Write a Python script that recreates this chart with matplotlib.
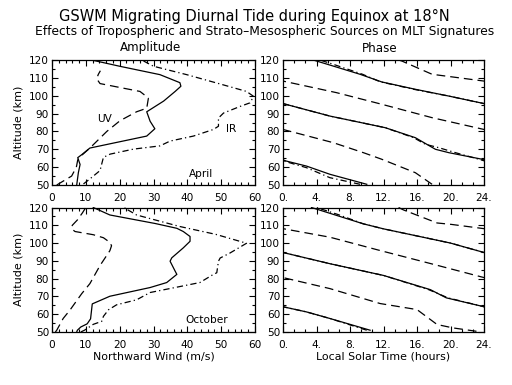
import numpy as np
import matplotlib
matplotlib.use("Agg")
import matplotlib.pyplot as plt
from matplotlib.ticker import MultipleLocator, FixedLocator

# ---------------- Amplitude data (m/s) ----------------
# April
alt_apr_tot = [50, 57, 61.5, 65.3, 67, 70.7, 77.4, 81.5, 85.7, 91, 97, 102.4, 105.3, 107.3, 111.8, 116.5, 120]
amp_apr_tot = [7.3, 7.8, 8.3, 7.6, 8.8, 11.2, 28, 30.4, 29, 28, 33, 36.4, 38.1, 37.8, 31.9, 20, 11.7]

alt_apr_uv = [50, 55, 60, 64, 67, 70.7, 80, 86, 91, 93, 98.7, 102.4, 105, 106.8, 109.5, 112, 114]
amp_apr_uv = [1.4, 5.8, 7.2, 7.6, 9, 11.2, 16.2, 20.1, 25, 28, 28.5, 26, 19, 14.2, 13.2, 13.7, 14.3]

alt_apr_ir = [50.6, 53.4, 58.1, 61.8, 65.5, 67.3, 70.1, 71.9, 74.6, 77.4, 81.1, 82.9, 87.5, 90.3, 94, 96,
              99.6, 102.4, 107.1, 111.8, 116.5, 120]
amp_apr_ir = [9.3, 11.2, 14.2, 14.7, 15.2, 17.2, 24.1, 31.9, 34.9, 41.8, 47.7, 49.2, 49.2, 50.7, 55.6, 58.5,
              59.6, 57.5, 48.7, 39.8, 30, 26.5]

# October
alt_oct_tot = [50, 51, 52.8, 54.6, 57.4, 65.8, 70.1, 75, 77.8, 82.4, 84.2, 89.8, 91.7, 97.3, 101, 103.7,
               106.5, 108.3, 111, 115.8, 120]
amp_oct_tot = [7.3, 7.5, 8.5, 10.4, 11.4, 11.9, 17.1, 29, 33.9, 36.9, 36.4, 34.9, 35.4, 38.8, 40.8, 40.8,
               38.8, 36.9, 30.5, 17.1, 12.2]

alt_oct_uv = [50, 51, 57.6, 62.3, 71.6, 77.2, 87.4, 95.7, 98.5, 100.4, 103, 104.7, 106.5, 108, 110, 113, 117, 120]
amp_oct_uv = [1.0, 1.4, 3.3, 5.3, 8.8, 11.2, 14.2, 17.1, 17.6, 17.1, 15.2, 12.2, 6.8, 5.8, 6.0, 7.5, 9.0, 10.0]

alt_oct_ir = [50, 51, 54.3, 56, 58.8, 62.5, 65.3, 68.1, 72.2, 77.8, 82.4, 83.3, 89.8, 91.6, 94.4, 99.9,
              104.9, 109.3, 113, 115.8, 119, 120]
amp_oct_ir = [8.5, 9.6, 12.2, 14.7, 15.2, 16.7, 19.1, 25, 29, 43.7, 47.7, 48.7, 49.2, 49.7, 52.6, 57.5,
              48.4, 37.8, 30.5, 25, 22.1, 21.5]

# ---------------- Phase data (unwrapped local time of maximum, hours) ----------------
alt_ph_apr_tot = [50.4, 56.0, 60.6, 63.4, 64.4, 68.1, 70.0, 76.5, 82.1, 88.6, 95.6, 99.8, 103.6, 107.7, 112.0, 117.6, 120.0]
ph_apr_tot = [34.0, 29.6, 26.8, 24.4, 23.8, 19.8, 18.2, 15.8, 12.2, 5.6, 0.0, -4.2, -8.2, -12.2, -14.8, -18.7, -20.4]

alt_ph_apr_uv = [50.4, 56.9, 64.4, 68.1, 73.7, 81.1, 87.7, 95.2, 101.7, 108.2, 112.0, 119.4, 120.0]
ph_apr_uv = [17.8, 15.8, 11.8, 9.6, 6.0, 0.0, -6.2, -12.2, -17.6, -24.0, -30.2, -33.8, -34.2]

alt_ph_apr_ir = [50.4, 54.1, 59.7, 63.0, 64.4, 68.1, 70.9, 72.8, 76.5, 82.1, 88.6, 95.6, 99.8, 103.6, 107.8, 112.0, 117.6, 120.0]
ph_apr_ir = [33.2, 29.6, 26.8, 24.4, 23.4, 20.6, 18.6, 17.0, 15.6, 12.2, 5.6, 0.0, -4.2, -8.4, -12.4, -14.5, -18.0, -19.6]

alt_ph_oct_tot = [51.0, 57.6, 61.3, 64.2, 69.2, 73.8, 81.8, 88.4, 94.7, 100.0, 104.0, 108.0, 110.8, 120.0]
ph_oct_tot = [34.4, 29.6, 26.8, 24.0, 19.5, 17.6, 12.0, 5.6, 0.0, -4.0, -8.0, -12.0, -14.4, -20.6]

alt_ph_oct_uv = [50.4, 52.3, 54.2, 62.6, 66.0, 74.4, 80.6, 88.5, 95.8, 103.3, 108.1, 110.5, 111.3, 118.6, 120.0]
ph_oct_uv = [23.1, 20.3, 18.4, 16.0, 11.6, 5.6, 0.0, -6.4, -12.4, -18.4, -24.0, -27.9, -29.6, -33.6, -34.2]

alt_ph_oct_ir = [51.0, 57.6, 61.3, 64.2, 69.2, 73.8, 81.8, 88.4, 94.7, 100.0, 104.0, 108.0, 110.8, 116.0, 120.0]
ph_oct_ir = [34.0, 29.6, 26.8, 24.0, 19.7, 17.4, 12.0, 5.6, 0.0, -4.0, -8.0, -12.0, -14.4, -17.4, -20.0]

amp_ticks = [0, 10, 20, 30, 40, 50, 60]
time_ticks = [0, 4, 8, 12, 16, 20, 24]
time_labels = ["0.", "4.", "8.", "12.", "16.", "20.", "24."]
alt_ticks = [50, 60, 70, 80, 90, 100, 110, 120]

# ---------------- styles ----------------
LW = 0.9
ST_TOT = dict(color="black", lw=LW, linestyle="-")
ST_UV = dict(color="black", lw=LW, linestyle=(0, (7, 4)))
ST_IR = dict(color="black", lw=LW, linestyle=(0, (5, 2.5, 1, 2.5)))

FS = 7.6
plt.rcParams["font.family"] = ["DejaVu Sans"]

fig = plt.figure(figsize=(5.12, 3.85), dpi=100)

W, H = 512.0, 385.0
def ax_at(x0, x1, y0, y1):
    return fig.add_axes([x0 / W, 1 - y1 / H, (x1 - x0) / W, (y1 - y0) / H])

ax_a1 = ax_at(52, 255, 60, 185)
ax_p1 = ax_at(283, 484, 60, 185)
ax_a2 = ax_at(52, 255, 207.5, 332)
ax_p2 = ax_at(283, 484, 207.5, 332)

def style(ax, xmaj, xmin, xlim, xlabels=None):
    ax.set_xlim(*xlim)
    ax.set_ylim(50, 120)
    ax.xaxis.set_major_locator(FixedLocator(xmaj))
    ax.xaxis.set_minor_locator(MultipleLocator(xmin))
    ax.yaxis.set_major_locator(FixedLocator(alt_ticks))
    ax.yaxis.set_minor_locator(MultipleLocator(5))
    if xlabels is not None:
        ax.set_xticklabels(xlabels)
    ax.tick_params(which="both", direction="in", top=True, right=True, labelsize=FS, width=0.8)
    ax.tick_params(which="major", length=4)
    ax.tick_params(axis="x", which="major", pad=6)
    ax.tick_params(axis="y", which="major", pad=2)
    ax.tick_params(which="minor", length=2)
    for s in ax.spines.values():
        s.set_linewidth(0.9)

# Amplitude panels
for ax, (at, vt, au, vu, ai, vi) in [
    (ax_a1, (alt_apr_tot, amp_apr_tot, alt_apr_uv, amp_apr_uv, alt_apr_ir, amp_apr_ir)),
    (ax_a2, (alt_oct_tot, amp_oct_tot, alt_oct_uv, amp_oct_uv, alt_oct_ir, amp_oct_ir)),
]:
    ax.plot(vt, at, **ST_TOT)
    ax.plot(vu, au, **ST_UV)
    ax.plot(vi, ai, **ST_IR)
    style(ax, amp_ticks, 2, (0, 60))
    ax.set_ylabel("Altitude (km)", fontsize=FS + 0.4, labelpad=4)

# Phase panels: lines of constant phase, wrapped every 24 h
for ax, series in [
    (ax_p1, [(alt_ph_apr_tot, ph_apr_tot, ST_TOT), (alt_ph_apr_uv, ph_apr_uv, ST_UV), (alt_ph_apr_ir, ph_apr_ir, ST_IR)]),
    (ax_p2, [(alt_ph_oct_tot, ph_oct_tot, ST_TOT), (alt_ph_oct_uv, ph_oct_uv, ST_UV), (alt_ph_oct_ir, ph_oct_ir, ST_IR)]),
]:
    for alts, ph, st in series:
        ph = np.asarray(ph)
        for k in (-1, 0, 1, 2):
            ax.plot(ph + 24 * k, alts, **st)
    style(ax, time_ticks, 4 / 3, (0, 24), time_labels)

ax_a2.set_xlabel("Northward Wind (m/s)", fontsize=FS + 0.3, labelpad=1)
ax_p2.set_xlabel("Local Solar Time (hours)", fontsize=FS + 0.3, labelpad=1)

# Annotations
ax_a1.text(15.4, 87, "UV", fontsize=FS, ha="center", va="center")
ax_a1.text(53, 81.5, "IR", fontsize=FS, ha="center", va="center")
ax_a1.text(44, 56, "April", fontsize=FS, ha="center", va="center")
ax_a2.text(45.7, 57, "October", fontsize=FS, ha="center", va="center")

# Titles
fig.text(254.5 / W, 1 - 16 / H, "GSWM Migrating Diurnal Tide during Equinox at 18\u00b0N",
         fontsize=10.5, ha="center", va="center")
fig.text(265 / W, 1 - 32 / H, "Effects of Tropospheric and Strato\u2013Mesospheric Sources on MLT Signatures",
         fontsize=8.8, ha="center", va="center")
fig.text(151 / W, 1 - 48 / H, "Amplitude", fontsize=FS + 1.0, ha="center", va="center")
fig.text(380 / W, 1 - 48 / H, "Phase", fontsize=FS + 1.0, ha="center", va="center")

fig.savefig("out.png", dpi=100, facecolor="white")
